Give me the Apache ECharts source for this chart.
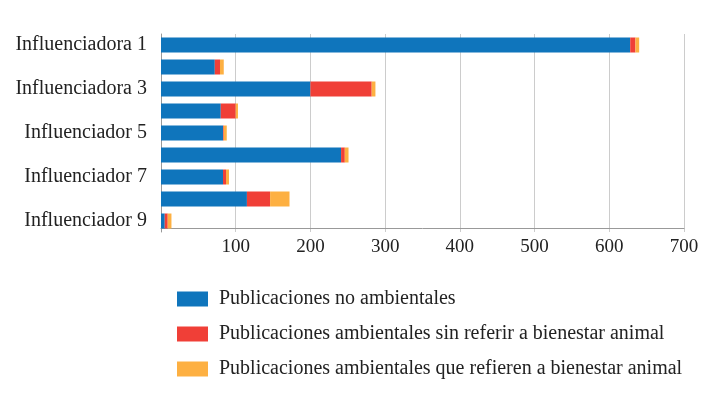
<!DOCTYPE html>
<html>
<head>
<meta charset="utf-8">
<script src="https://cdn.jsdelivr.net/npm/echarts@6/dist/echarts.min.js"></script>
<style>
  html, body { margin: 0; padding: 0; background: #fff; }
  #container { width: 712px; height: 395px; }
</style>
</head>
<body>
<div id="container"></div>
<script>
    let categories = [
        'Influenciadora 1', 'Influenciadora 2', 'Influenciadora 3',
        'Influenciadora 4', 'Influenciador 5', 'Influenciador 6',
        'Influenciador 7', 'Influenciador 8', 'Influenciador 9'
    ];
    let noAmbientales = [628, 72, 200, 80, 83, 241, 83, 115, 5];
    let sinBienestar = [7, 7, 82, 20, 1, 5, 4, 31, 4];
    let conBienestar = [5, 5, 5, 3, 4, 5, 4, 26, 5];

    let seriesNames = [
        'Publicaciones no ambientales',
        'Publicaciones ambientales sin referir a bienestar animal',
        'Publicaciones ambientales que refieren a bienestar animal'
    ];
    let colors = ['#0f75bc', '#f03f37', '#fdb042'];
    let serif = '"Liberation Serif", "Times New Roman", serif';

    let dom = document.getElementById('container');
    let myChart = echarts.init(dom);

    let option = {
        animation: false,
        color: colors,
        grid: {
            left: 161,
            right: 28,
            top: 34,
            bottom: 163
        },
        legend: {
            orient: 'vertical',
            left: 177,
            top: 289,
            padding: 0,
            itemWidth: 31,
            itemHeight: 15,
            itemGap: 15,
            icon: 'rect',
            textStyle: { fontFamily: serif, fontSize: 20, lineHeight: 20, color: '#222', padding: [0, 0, 0, 6] },
            data: seriesNames
        },
        xAxis: {
            type: 'value',
            min: 0,
            max: 700,
            interval: 100,
            offset: -4,
            axisLine: { show: true, lineStyle: { color: '#999' } },
            axisTick: { show: false },
            splitLine: { lineStyle: { color: '#ccc' } },
            axisLabel: {
                showMinLabel: false,
                fontFamily: serif,
                fontSize: 19,
                color: '#222',
                margin: 10
            }
        },
        yAxis: {
            type: 'category',
            inverse: true,
            data: categories,
            axisLine: { show: true, lineStyle: { color: '#999' } },
            axisTick: { show: false },
            axisLabel: {
                interval: 1,
                fontFamily: serif,
                fontSize: 20,
                color: '#222',
                margin: 14
            }
        },
        series: [
            { name: seriesNames[0], type: 'bar', stack: 'total', barWidth: 15, data: noAmbientales },
            { name: seriesNames[1], type: 'bar', stack: 'total', barWidth: 15, data: sinBienestar },
            { name: seriesNames[2], type: 'bar', stack: 'total', barWidth: 15, data: conBienestar }
        ]
    };
    myChart.setOption(option);
</script>
</body>
</html>
